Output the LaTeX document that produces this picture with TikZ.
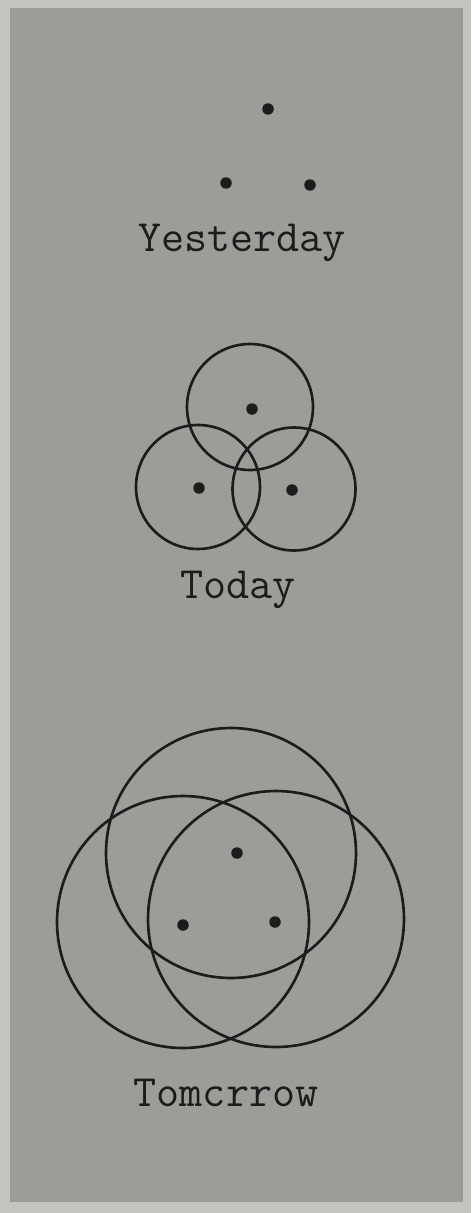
\documentclass[tikz,border=0pt]{standalone}
\definecolor{outerbg}{RGB}{196, 195, 190}
\definecolor{paper}{RGB}{156, 156, 153}
\definecolor{ink}{RGB}{28, 28, 28}
\usetikzlibrary{positioning}

\begin{document}
\begin{tikzpicture}[x=0.02cm, y=-0.02cm,
    ring/.style={draw=ink, line width=1.5pt},
    dot/.style={circle, fill=ink, inner sep=0pt, minimum size=0.23cm},
    caption/.style={anchor=base, text=ink, font=\ttfamily\fontsize{25.5}{30}\selectfont}]
  % paper
  \fill[outerbg] (0,0) rectangle (471,1213);
  \fill[paper] (10,8) rectangle (463,1202);
  \useasboundingbox (0,0) rectangle (471,1213);

  % yesterday
  \node[dot] (y1) at (268,109) {};
  \node[dot] (y2) at (226,183) {};
  \node[dot] (y3) at (310,185) {};
  \node[caption] (yesterday) at (242,252) {Yesterday};

  % today
  \draw[ring] (250,407) circle [radius=1.26cm];
  \draw[ring] (198,487) circle [radius=1.24cm];
  \draw[ring] (294,489) circle [radius=1.23cm];
  \node[dot] (t1) at (252,409) {};
  \node[dot] (t2) at (199,488) {};
  \node[dot] (t3) at (292,490) {};
  \node[caption] (today) at (238,598) {Today};

  % tomorrow
  \draw[ring] (231,853) circle [radius=2.5cm];
  \draw[ring] (183,922) circle [radius=2.52cm];
  \draw[ring] (276,919) circle [radius=2.56cm];
  \node[dot] (m1) at (237,853) {};
  \node[dot] (m2) at (183,925) {};
  \node[dot] (m3) at (275,922) {};
  \node[caption] (tomorrow) at (226,1106) {Tomcrrow};
\end{tikzpicture}
\end{document}
